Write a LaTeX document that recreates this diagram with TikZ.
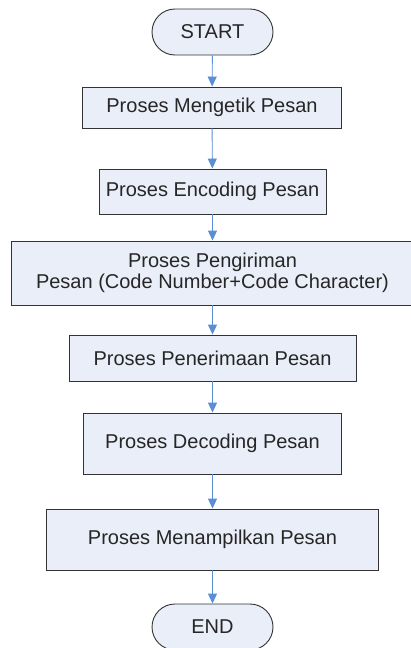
\documentclass[tikz,border=0pt]{standalone}
\usepackage{fontspec}
\setmainfont{Liberation Sans}
\usetikzlibrary{shapes.misc,arrows.meta}
\definecolor{boxfill}{HTML}{EAEEF8}
\definecolor{arrowblue}{HTML}{5B8FD3}
\definecolor{edgegray}{HTML}{333333}
\begin{document}
\begin{tikzpicture}[x=1pt,y=-1pt,
  procbox/.style={draw=edgegray,fill=boxfill,line width=0.9pt,rectangle,inner sep=0pt,align=center,font=\fontsize{20}{21}\selectfont,text=black!85},
  termbox/.style={draw=edgegray,fill=boxfill,line width=0.9pt,rounded rectangle,inner sep=0pt,minimum width=121pt,minimum height=46pt,font=\fontsize{20}{22}\selectfont,text=black!85},
  flow/.style={draw=arrowblue,line width=0.9pt,-{Triangle[width=9pt,length=10pt]}}]
\useasboundingbox (0,0) rectangle (411,648);
\clip (0,0) rectangle (411,648);
\fill[white] (0,0) rectangle (411,648);
\node[termbox] (start) at (212.5,32) {START};
\node[procbox,minimum width=259pt,minimum height=41pt] (b1) at (212,107.5) {Proses Mengetik Pesan};
\node[procbox,minimum width=227pt,minimum height=45pt] (b2) at (212.5,191.5) {Proses Encoding Pesan};
\node[procbox,minimum width=403pt,minimum height=64pt] (b3) at (212.5,273) {Proses Pengiriman\\Pesan (Code Number+Code Character)};
\node[procbox,minimum width=287pt,minimum height=46pt] (b4) at (212.5,358) {Proses Penerimaan Pesan};
\node[procbox,minimum width=258pt,minimum height=61pt] (b5) at (212.5,443.5) {Proses Decoding Pesan};
\node[procbox,minimum width=332pt,minimum height=61pt] (b6) at (212.5,539.5) {Proses Menampilkan Pesan};
\node[termbox] (end) at (212.5,627) {END};
\draw[flow] (start) -- (b1);
\draw[flow] (b1) -- (b2);
\draw[flow] (b2) -- (b3);
\draw[flow] (b3) -- (b4);
\draw[flow] (b4) -- (b5);
\draw[flow] (b5) -- (b6);
\draw[flow] (b6) -- (end);
\end{tikzpicture}
\end{document}
